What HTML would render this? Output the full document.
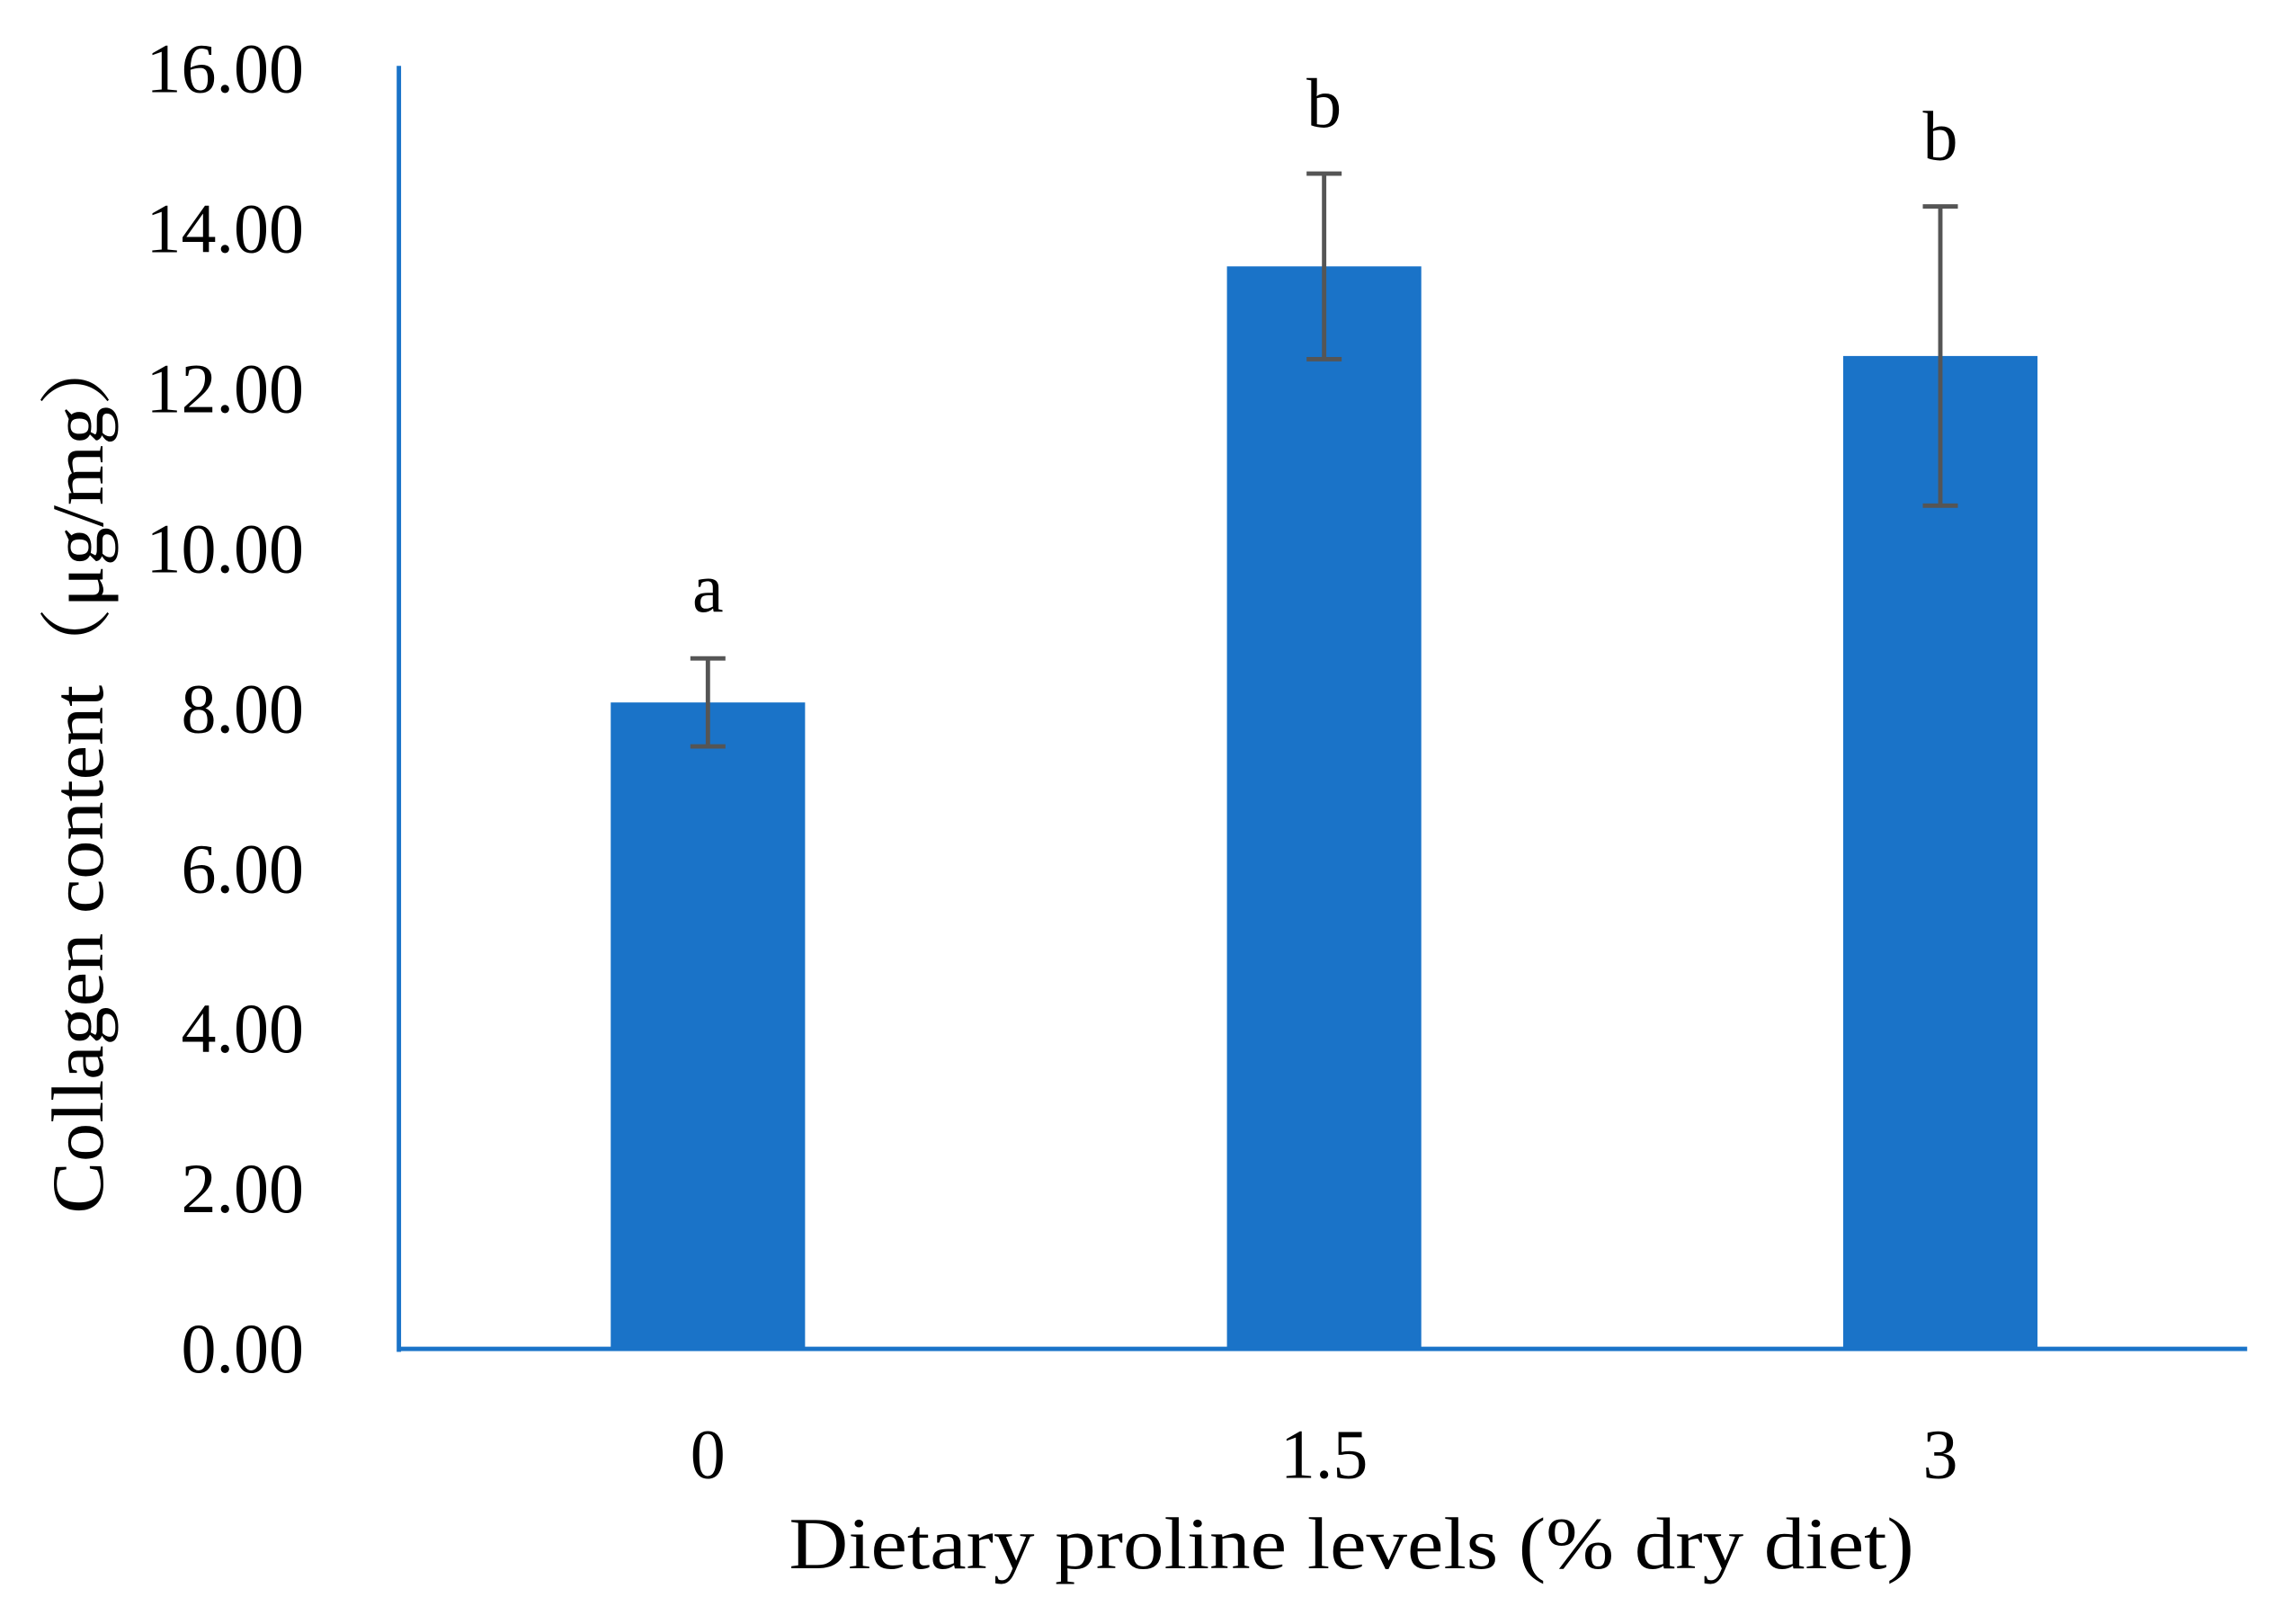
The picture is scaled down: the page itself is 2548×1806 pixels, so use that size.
<!DOCTYPE html>
<html><head><meta charset="utf-8"><style>html,body{margin:0;padding:0;background:#fff}svg{display:block}</style></head>
<body>
<svg width="2548" height="1806" viewBox="0 0 1568 1110" preserveAspectRatio="none" xmlns="http://www.w3.org/2000/svg" font-family="'Liberation Serif', 'Noto Serif CJK SC', serif">
<g id="plot"></g>
<text transform="translate(70,527) rotate(-90)" text-anchor="middle" font-size="50" fill="#000" textLength="605" lengthAdjust="spacingAndGlyphs">Collagen content（μg/mg）</text>
<text x="925" y="1072" text-anchor="middle" font-size="50" fill="#000" textLength="770" lengthAdjust="spacingAndGlyphs">Dietary proline levels (% dry diet)</text>
<script>
const categories = ["0", "1.5", "3"];
const values = [8.08, 13.53, 12.41];
const errors = [0.55, 1.16, 1.87];
const letters = ["a", "b", "b"];
const yTicks = [0, 2, 4, 6, 8, 10, 12, 14, 16];

const NS = "http://www.w3.org/2000/svg";
const g = document.getElementById("plot");
const x0 = 273, x1 = 1538, y0 = 922, yTop = 47;
const y = v => y0 - v / 16 * (y0 - yTop);
const centers = [484.5, 906, 1328];
const xc = i => centers[0] + i * (centers[2] - centers[0]) / (categories.length - 1);
const bw = 133;
function mk(tag, attrs, parent) { const e = document.createElementNS(NS, tag); for (const k in attrs) e.setAttribute(k, attrs[k]); (parent || g).appendChild(e); return e; }

yTicks.forEach(t => {
  const tx = mk("text", {x: 208, y: y(t) + 16, "text-anchor": "end", "font-size": 48, fill: "#000"});
  
  
  tx.textContent = t.toFixed(2);
});
categories.forEach((c, i) => {
  const r = mk("rect", {x: xc(i) - bw / 2, y: y(values[i]), width: bw, height: y0 - y(values[i]), fill: "#1a73c8"});
  
  
  const hi = y(values[i] + errors[i]), lo = y(values[i] - errors[i]);
  const eb = mk("path", {d: `M${xc(i)},${hi}V${lo}M${xc(i)-12},${hi}H${xc(i)+12}M${xc(i)-12},${lo}H${xc(i)+12}`, stroke: "#555", "stroke-width": 3, fill: "none"});
  
  
  const l = mk("text", {x: xc(i), y: hi - 32, "text-anchor": "middle", "font-size": 48, fill: "#000"});
  
  
  l.textContent = letters[i];
  const tl = mk("text", {x: xc(i), y: 1010, "text-anchor": "middle", "font-size": 48, fill: "#000"});
  
  
  tl.textContent = c;
});
const ya = mk("line", {x1: x0, y1: yTop - 2, x2: x0, y2: y0 + 2, stroke: "#1a73c8", "stroke-width": 3});


const xa = mk("line", {x1: x0, y1: y0, x2: x1, y2: y0, stroke: "#1a73c8", "stroke-width": 3});


</script>
</svg>
</body></html>
